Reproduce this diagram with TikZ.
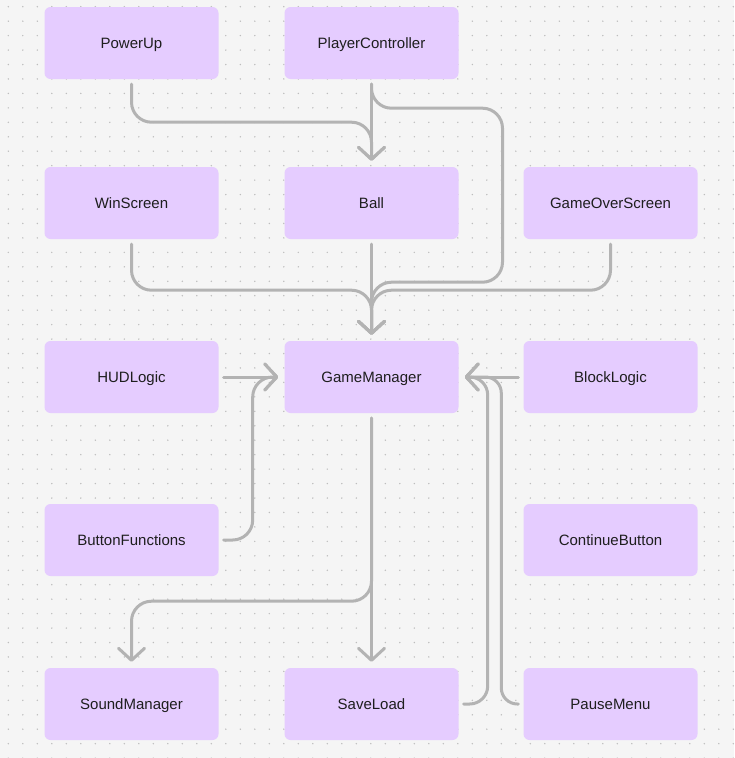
\documentclass[tikz,border=0pt]{standalone}
\usepackage{fontspec}
\setmainfont{Liberation Sans}
\usetikzlibrary{arrows.meta}
\definecolor{boxfill}{HTML}{E5CCFF}
\definecolor{paper}{HTML}{F5F5F5}
\definecolor{griddot}{HTML}{BDBDBD}
\definecolor{wire}{HTML}{B3B3B3}
\definecolor{ink}{HTML}{1E1E1E}
\begin{document}
\begin{tikzpicture}[
   x=1pt, y=-1pt,
   class/.style={fill=boxfill, rounded corners=6pt, minimum width=174pt,
                 minimum height=72pt, text=ink, text height=10.7pt, text depth=0pt,
                 font=\fontsize{15}{18}\selectfont},
   link/.style={draw=wire, line width=3pt, rounded corners=20pt, line cap=round,
                shorten <=5pt, shorten >=6pt,
                -{Straight Barb[length=12pt, width=26pt, round]}}]

% canvas
\fill[paper] (0,0) rectangle (734,758);
\useasboundingbox (0,0) rectangle (734,758);
\foreach \i in {0,...,50}
  \foreach \j in {0,...,52}
    \fill[griddot] (8.3+\i*14.5, 6.7+\j*14.45) circle (0.8);

% classes
\node[class] (powerup)  at (131.5,43)  {PowerUp};
\node[class] (player)   at (371.5,43)  {PlayerController};
\node[class] (win)      at (131.5,203) {WinScreen};
\node[class] (ball)     at (371.5,203) {Ball};
\node[class] (gameover) at (610.5,203) {GameOverScreen};
\node[class] (hud)      at (131.5,377) {HUDLogic};
\node[class] (gm)       at (371.5,377) {GameManager};
\node[class] (block)    at (610.5,377) {BlockLogic};
\node[class] (buttons)  at (131.5,540) {ButtonFunctions};
\node[class] (continue) at (610.5,540) {ContinueButton};
\node[class] (sound)    at (131.5,704) {SoundManager};
\node[class] (saveload) at (371.5,704) {SaveLoad};
\node[class] (pause)    at (610.5,704) {PauseMenu};

% references
\draw[link] (powerup.south) -- ++(0,43) -| (ball.north);
\draw[link] (player.south) -- (ball.north);
\draw[link] (player.south) -- ++(0,29) -- ++(131,0) -- ++(0,174) -| (gm.north);
\draw[link] (win.south) -- ++(0,51) -| (gm.north);
\draw[link] (ball.south) -- (gm.north);
\draw[link] (gameover.south) -- ++(0,51) -| (gm.north);

\draw[link] (hud.east) -- (gm.west);
\draw[link] (buttons.east) -- ++(34,0) |- (gm.west);
\draw[link] (block.west) -- (gm.east);
\draw[link, rounded corners=18pt] (saveload.east) -- ++(29,0) |- (gm.east);
\draw[link, rounded corners=16pt] (pause.west) -- ++(-22,0) |- (gm.east);

\draw[link] (gm.south) -- ++(0,188) -| (sound.north);
\draw[link] (gm.south) -- (saveload.north);

\end{tikzpicture}
\end{document}
